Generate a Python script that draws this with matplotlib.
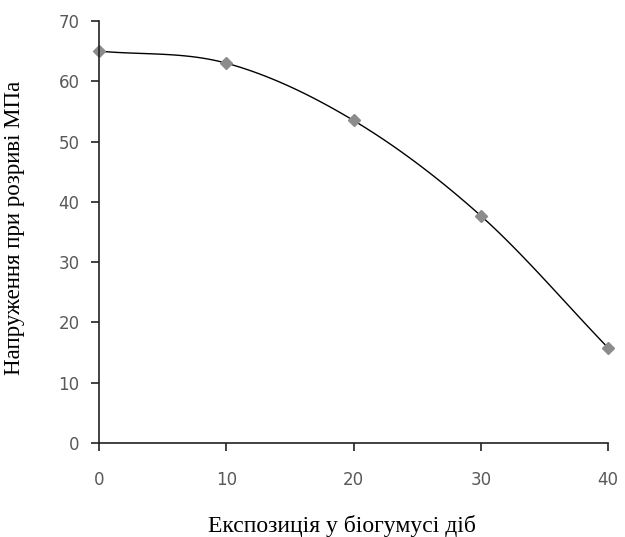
import numpy as np
import matplotlib.pyplot as plt

days = [0, 10, 20, 30, 40]
stress = [65.0, 63.0, 53.5, 37.7, 15.8]


def smooth(xs, ys, n=30):
    # Catmull-Rom style smoothing, like Excel's "smoothed line"
    x = np.array(xs, float)
    y = np.array(ys, float)
    px = np.concatenate([[2 * x[0] - x[1]], x, [2 * x[-1] - x[-2]]])
    py = np.concatenate([[2 * y[0] - y[1]], y, [2 * y[-1] - y[-2]]])
    ox, oy = [], []
    t = np.linspace(0, 1, n)
    for i in range(1, len(px) - 2):
        for p, out in ((px, ox), (py, oy)):
            p0, p1, p2, p3 = p[i - 1], p[i], p[i + 1], p[i + 2]
            out.extend(0.5 * ((2 * p1) + (-p0 + p2) * t
                              + (2 * p0 - 5 * p1 + 4 * p2 - p3) * t ** 2
                              + (-p0 + 3 * p1 - 3 * p2 + p3) * t ** 3))
    return ox, oy


fig = plt.figure(figsize=(6.25, 5.37), dpi=100)
ax = fig.add_axes([0.1584, 0.175, 0.8144, 0.786])

sx, sy = smooth(days, stress)
ax.plot(sx, sy, color="black", linewidth=1.0)
ax.plot(days, stress, linestyle="none", marker="D", markersize=6.5,
        color="#8c8c8c")

ax.set_xlim(0, 40)
ax.set_ylim(0, 70)
ax.set_xticks([0, 10, 20, 30, 40])
ax.set_yticks(range(0, 71, 10))
ax.spines["top"].set_visible(False)
ax.spines["right"].set_visible(False)
for s in ("left", "bottom"):
    ax.spines[s].set_linewidth(1.2)
    ax.spines[s].set_color("#222222")
ax.tick_params(direction="out", length=6, width=1.2, color="#222222",
               labelsize=12, labelcolor="#595959")
ax.tick_params(axis="y", pad=8)
ax.tick_params(axis="x", pad=14)
for a in ax.lines:
    a.set_clip_on(False)

fig.text(342 / 625, 1 - 526 / 537, "Експозиція у біогумусі діб",
         family="Liberation Serif", fontsize=17, ha="center", va="center")
fig.text(15 / 625, 1 - 228 / 537, "Напруження при розриві МПа",
         family="Liberation Serif", fontsize=16.5, ha="center", va="center",
         rotation=90)

fig.savefig("out.png", dpi=100)
